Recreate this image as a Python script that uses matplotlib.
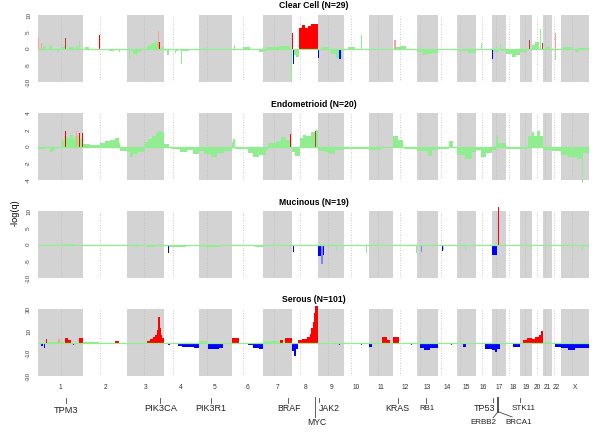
import numpy as np
import matplotlib.pyplot as plt
from matplotlib import transforms

plt.rcParams['font.family'] = ['Liberation Sans', 'DejaVu Sans']

# genome layout (Mb)
chrom_names = [str(i) for i in range(1, 23)] + ['X']
chrom_len = [247, 243, 199, 191, 181, 171, 159, 146, 140, 135, 134, 132,
             114, 106, 100, 89, 79, 76, 64, 62, 47, 50, 155]
centromere = [124.2, 93.4, 91.7, 50.9, 47.7, 60.5, 59.1, 45.2, 51.8, 40.3, 52.9, 35.4,
              16.0, 15.6, 17.0, 38.2, 22.2, 16.1, 28.5, 27.1, 12.3, 11.8, 59.5]

# segments: (chrom, start Mb, end Mb, -log(q), call)
clear_cell = [
    (1, 0, 4, 3.3, 'amp_w'), (1, 18, 24, 1.7, 'amp_w'), (1, 30, 45, 0.6, 'ns'),
    (1, 60, 68, 0.5, 'ns'), (1, 68, 75, 0.9, 'ns'), (1, 105, 114, -1.0, 'ns'),
    (1, 130, 140, 0.4, 'ns'), (1, 140, 148, 0.7, 'ns'),
    (1, 150, 156, 3.2, 'amp_d'), (1, 170, 200, 0.3, 'ns'), (1, 210, 220, 0.8, 'ns'),
    (1, 226, 231, 2.2, 'ns'),
    (2, 10, 30, 0.3, 'ns'), (2, 36, 40, 1.0, 'ns'), (2, 60, 85, -0.4, 'ns'),
    (2, 88, 94, 4.1, 'amp'), (2, 110, 140, -0.3, 'ns'), (2, 140, 170, -0.6, 'ns'),
    (2, 198, 204, -1.0, 'ns'),
    (3, 8, 12, -3.0, 'ns'), (3, 20, 30, -0.8, 'ns'), (3, 30, 45, -1.5, 'ns'),
    (3, 45, 55, -2.2, 'ns'), (3, 55, 60, -1.6, 'ns'), (3, 60, 72, -1.0, 'ns'),
    (3, 72, 106, -0.5, 'ns'), (3, 106, 120, 0.6, 'ns'), (3, 120, 130, 1.0, 'ns'),
    (3, 130, 150, 1.5, 'ns'), (3, 150, 160, 2.2, 'ns'), (3, 160, 167, 1.7, 'ns'),
    (3, 167, 172, 5.2, 'amp_w'), (3, 172, 180, 2.0, 'amp'), (3, 182, 199, 0.5, 'ns'),
    (4, 5, 15, -0.8, 'ns'), (4, 20, 30, -2.0, 'ns'), (4, 60, 70, -1.2, 'ns'),
    (4, 70, 80, -0.7, 'ns'), (4, 96, 100, -4.5, 'ns'), (4, 100, 140, -0.6, 'ns'),
    (4, 150, 185, -0.3, 'ns'),
    (5, 0, 3, 1.8, 'amp'), (5, 33, 38, 1.0, 'ns'), (5, 140, 170, -0.5, 'ns'),
    (6, 15, 20, 1.0, 'ns'), (6, 60, 100, 0.3, 'ns'), (6, 150, 171, -1.0, 'ns'),
    (7, 0, 20, -0.8, 'ns'), (7, 20, 90, 0.3, 'ns'), (7, 90, 150, 0.6, 'ns'),
    (7, 156, 159, -9.8, 'ns'),
    (8, 0, 8, 4.7, 'amp'), (8, 4, 12, -4.5, 'del'), (8, 12, 25, -1.8, 'ns'),
    (8, 25, 41, -2.5, 'ns'),
    (8, 41, 54, 6.0, 'amp'), (8, 54, 72, 7.0, 'amp'), (8, 72, 90, 6.2, 'amp'),
    (8, 90, 108, 6.7, 'amp'), (8, 108, 146, 7.2, 'amp'),
    (9, 0, 3, -2.7, 'del'), (9, 20, 60, 0.4, 'ns'), (9, 70, 95, -1.5, 'ns'),
    (9, 95, 127, -2.7, 'ns'), (9, 113, 121, -3.2, 'del'),
    (10, 20, 60, 0.3, 'ns'), (10, 94, 98, 4.0, 'ns'), (10, 100, 130, -0.3, 'ns'),
    (11, 30, 120, -0.3, 'ns'),
    (12, 5, 14, 2.5, 'amp_w'), (12, 15, 40, 0.5, 'ns'), (12, 40, 70, 0.8, 'ns'),
    (13, 0, 30, -1.0, 'ns'), (13, 30, 55, -2.0, 'ns'), (13, 55, 80, -1.5, 'ns'),
    (13, 80, 114, -1.2, 'ns'), (13, 46, 50, -4.5, 'del'),
    (14, 20, 60, -0.3, 'ns'), (14, 103, 106, 10.9, 'amp'),
    (15, 5, 60, -0.8, 'ns'), (15, 60, 100, -1.2, 'ns'),
    (16, 31, 35, 1.5, 'ns'), (16, 40, 80, -0.4, 'ns'),
    (17, 0, 6, -3.0, 'del'), (17, 6, 40, -1.0, 'ns'), (17, 45, 50, 1.5, 'ns'),
    (17, 50, 79, -0.8, 'ns'),
    (18, 0, 30, -1.5, 'ns'), (18, 30, 55, -2.5, 'ns'), (18, 55, 76, -1.8, 'ns'),
    (19, 0, 40, -1.0, 'ns'), (19, 49, 53, 2.5, 'amp_d'),
    (20, 0, 20, 1.0, 'ns'), (20, 20, 40, 2.0, 'ns'), (20, 46, 49, 5.7, 'ns'),
    (20, 57, 61, 1.7, 'amp_d'),
    (21, 10, 40, 0.5, 'ns'),
    (22, 18, 24, 4.7, 'amp_w'), (22, 20, 22, -3.5, 'ns'),
    (23, 10, 60, 0.3, 'ns'), (23, 80, 100, -1.0, 'ns'), (23, 100, 155, 0.2, 'ns'),
]

endometrioid = [
    (1, 0, 40, -0.3, 'ns'), (1, 66, 80, -0.6, 'ns'), (1, 80, 93, -0.4, 'ns'),
    (1, 131, 145, 0.8, 'ns'), (1, 145, 160, 1.3, 'ns'), (1, 160, 175, 1.0, 'ns'),
    (1, 175, 190, 1.4, 'ns'), (1, 190, 205, 0.9, 'ns'), (1, 205, 225, 1.2, 'ns'),
    (1, 225, 247, 0.9, 'ns'),
    (1, 148, 156, 1.8, 'amp'), (1, 208, 216, 1.8, 'amp_w'), (1, 225, 230, 1.6, 'amp'),
    (1, 240, 246, 1.6, 'amp'),
    (2, 0, 40, 0.3, 'ns'), (2, 40, 93, 0.2, 'ns'), (2, 93, 120, 0.4, 'ns'),
    (2, 120, 150, 0.6, 'ns'), (2, 150, 175, 0.8, 'ns'), (2, 175, 195, 1.0, 'ns'),
    (2, 195, 202, 0.4, 'ns'), (2, 202, 243, -0.5, 'ns'),
    (3, 0, 15, -0.6, 'ns'), (3, 15, 30, -1.3, 'ns'), (3, 30, 60, -0.9, 'ns'),
    (3, 60, 96, -0.6, 'ns'), (3, 96, 115, 0.5, 'ns'), (3, 115, 135, 0.9, 'ns'),
    (3, 135, 155, 1.2, 'ns'), (3, 155, 170, 1.6, 'ns'), (3, 170, 185, 1.9, 'ns'),
    (3, 185, 199, 1.7, 'ns'),
    (4, 0, 30, 0.3, 'ns'), (4, 40, 90, -0.3, 'ns'), (4, 90, 130, -0.6, 'ns'),
    (4, 130, 160, -0.4, 'ns'), (4, 160, 191, -0.9, 'ns'),
    (5, 0, 30, -0.5, 'ns'), (5, 30, 70, -0.9, 'ns'), (5, 70, 100, -1.3, 'ns'),
    (5, 100, 140, -0.8, 'ns'), (5, 140, 181, -0.5, 'ns'),
    (6, 0, 10, 0.5, 'ns'), (6, 10, 20, 0.9, 'ns'), (6, 20, 90, -0.3, 'ns'),
    (6, 90, 120, -0.8, 'ns'), (6, 120, 150, -1.3, 'ns'), (6, 150, 171, -1.0, 'ns'),
    (7, 0, 20, -1.0, 'ns'), (7, 20, 30, -0.4, 'ns'), (7, 30, 70, 0.4, 'ns'),
    (7, 70, 100, 0.7, 'ns'), (7, 100, 125, 1.1, 'ns'), (7, 125, 148, 0.8, 'ns'),
    (7, 148, 155, 1.5, 'amp'),
    (8, 0, 20, -0.7, 'ns'), (8, 20, 44, -1.1, 'ns'), (8, 44, 60, 1.0, 'ns'),
    (8, 60, 80, 1.4, 'ns'), (8, 80, 105, 1.2, 'ns'), (8, 105, 126, 1.7, 'ns'),
    (8, 126, 133, 1.8, 'amp_d'), (8, 133, 146, 2.0, 'ns'),
    (9, 0, 40, -0.5, 'ns'), (9, 40, 60, -0.7, 'ns'), (9, 60, 90, -0.9, 'ns'),
    (9, 90, 140, -0.4, 'ns'),
    (10, 0, 135, -0.3, 'ns'),
    (11, 0, 70, -0.4, 'ns'), (11, 70, 134, -0.2, 'ns'),
    (12, 0, 25, 1.3, 'ns'), (12, 25, 54, 0.8, 'ns'), (12, 60, 132, -0.3, 'ns'),
    (13, 0, 60, -0.5, 'ns'), (13, 60, 80, -1.1, 'ns'), (13, 80, 114, -0.4, 'ns'),
    (14, 0, 60, -0.3, 'ns'), (14, 60, 80, 0.6, 'ns'), (14, 80, 106, -0.2, 'ns'),
    (15, 0, 40, -1.0, 'ns'), (15, 40, 80, -1.5, 'ns'), (15, 80, 100, -0.6, 'ns'),
    (16, 0, 30, -0.4, 'ns'), (16, 30, 60, -1.2, 'ns'), (16, 60, 89, -0.8, 'ns'),
    (17, 0, 25, -0.4, 'ns'), (17, 25, 35, 1.2, 'ns'), (17, 35, 79, 0.4, 'ns'),
    (18, 0, 76, -0.3, 'ns'),
    (19, 0, 40, -0.3, 'ns'), (19, 45, 64, 1.3, 'ns'),
    (20, 0, 15, 1.7, 'ns'), (20, 15, 30, 1.3, 'ns'), (20, 30, 45, 1.8, 'ns'),
    (20, 45, 62, 1.2, 'ns'),
    (21, 0, 47, -0.4, 'ns'),
    (22, 0, 50, -0.5, 'ns'),
    (23, 0, 40, -1.0, 'ns'), (23, 40, 90, -1.3, 'ns'), (23, 90, 118, -1.5, 'ns'),
    (23, 118, 121, -4.3, 'ns'), (23, 121, 155, -0.8, 'ns'),
]

mucinous = [
    (1, 36, 40, -5.7, 'del'), (1, 150, 200, 0.2, 'ns'),
    (3, 40, 60, -0.8, 'ns'), (3, 110, 150, -0.8, 'ns'),
    (4, 24, 27, -2.6, 'del'), (4, 30, 120, -0.6, 'ns'),
    (5, 30, 120, -0.8, 'ns'),
    (6, 130, 171, -0.8, 'ns'),
    (8, 6, 10, -2.2, 'del'),
    (9, 0, 12, -3.5, 'del'), (9, 12, 25, -5.8, 'del_w'), (9, 25, 30, -3.0, 'del'),
    (9, 98, 102, -1.5, 'ns'),
    (10, 122, 126, -2.5, 'ns'),
    (12, 127, 131, -2.5, 'ns'),
    (13, 20, 28, -2.2, 'del_w'),
    (14, 20, 27, -1.9, 'del'), (14, 30, 32, -1.5, 'ns'), (14, 103, 106, 9.1, 'amp'),
    (15, 44, 47, -2.0, 'ns'),
    (17, 2, 30, -3.0, 'del'), (17, 34, 37, 11.1, 'amp'),
    (19, 61, 64, -1.5, 'ns'),
    (22, 16, 20, -2.0, 'del_w'),
    (23, 119, 123, -2.0, 'ns'),
]

serous = [
    (1, 50, 110, 0.8, 'ns'), (1, 120, 145, 0.5, 'ns'),
    (1, 15, 29, -3.4, 'del'), (1, 31, 40, -4.5, 'del'), (1, 42, 49, 2.7, 'amp'),
    (1, 111, 120, 3.5, 'amp_w'), (1, 148, 166, 4.2, 'amp'), (1, 166, 179, 2.5, 'amp'),
    (1, 190, 197, -1.8, 'del'), (1, 225, 247, 4.2, 'amp'),
    (2, 0, 90, 0.5, 'ns'), (2, 100, 170, -0.5, 'ns'),
    (2, 91, 95, 2.5, 'amp'), (2, 175, 197, 1.5, 'amp'),
    (3, 7, 11, -2.7, 'del'), (3, 105, 125, 1.5, 'amp'), (3, 125, 140, 3.0, 'amp'),
    (3, 140, 152, 4.5, 'amp'), (3, 152, 160, 7.0, 'amp'), (3, 160, 165, 11.0, 'amp'),
    (3, 165, 170, 17.0, 'amp'), (3, 170, 176, 23.0, 'amp'), (3, 176, 180, 18.0, 'amp'),
    (3, 180, 185, 12.6, 'amp'), (3, 185, 192, 7.0, 'amp'), (3, 192, 199, 4.0, 'amp'),
    (4, 25, 34, -2.0, 'del'), (4, 80, 100, -3.5, 'del'), (4, 100, 165, -4.0, 'del'),
    (4, 165, 191, -5.0, 'del'),
    (5, 0, 45, 1.5, 'ns'), (5, 53, 75, -5.4, 'del'), (5, 75, 110, -6.0, 'del'),
    (5, 110, 135, -5.0, 'del'),
    (6, 0, 40, 3.6, 'amp'), (6, 91, 119, -2.5, 'del'), (6, 119, 150, -5.0, 'del'),
    (6, 150, 171, -6.0, 'del'),
    (7, 0, 90, 1.0, 'ns'), (7, 94, 112, 2.0, 'amp'), (7, 121, 158, 4.2, 'amp'),
    (8, 0, 10, -8.0, 'del'), (8, 10, 22, -12.0, 'del'), (8, 22, 35, -6.0, 'del'),
    (8, 35, 55, 2.0, 'amp'), (8, 55, 85, 3.5, 'amp'), (8, 85, 100, 5.0, 'amp'),
    (8, 100, 108, 8.0, 'amp'), (8, 108, 115, 13.0, 'amp'), (8, 115, 122, 18.0, 'amp'),
    (8, 122, 128, 26.0, 'amp'), (8, 128, 146, 33.0, 'amp'),
    (9, 115, 119, -2.0, 'del'),
    (10, 3, 7, 2.0, 'amp'), (10, 96, 100, -2.0, 'del'),
    (11, 0, 20, -4.0, 'del'), (11, 71, 100, 5.0, 'amp'), (11, 102, 117, 2.5, 'amp'),
    (12, 0, 32, 4.5, 'amp'), (12, 99, 103, -2.0, 'del'),
    (13, 15, 40, -4.5, 'del'), (13, 40, 70, -6.3, 'del'), (13, 70, 114, -5.0, 'del'),
    (14, 73, 77, -2.0, 'del'), (14, 103, 106, 33.0, 'amp'),
    (15, 29, 47, -4.0, 'del'), (15, 95, 99, 1.5, 'amp'),
    (16, 0, 3, 2.0, 'amp'), (16, 51, 89, -5.4, 'del'),
    (17, 0, 17, -7.0, 'del'), (17, 17, 27, -8.5, 'del'), (17, 27, 44, -6.0, 'del'),
    (18, 35, 76, -4.0, 'del'),
    (19, 17, 40, 2.5, 'amp'), (19, 40, 63, 3.6, 'amp'),
    (20, 0, 20, 3.0, 'amp'), (20, 20, 40, 5.0, 'amp'), (20, 40, 52, 7.0, 'amp'),
    (20, 52, 62, 10.5, 'amp'),
    (21, 10, 40, 0.8, 'ns'),
    (22, 18, 50, -4.0, 'del'),
    (23, 0, 40, -5.0, 'del'), (23, 40, 80, -6.5, 'del'), (23, 80, 155, -4.5, 'del'),
]

panel_titles = ['Clear Cell (N=29)', 'Endometrioid (N=20)', 'Mucinous (N=19)', 'Serous (N=101)']
panel_data = [clear_cell, endometrioid, mucinous, serous]
panel_lim = [10, 4, 10, 30]
panel_ticks = [[-10, -5, 0, 5, 10], [-4, -2, 0, 2, 4], [-10, -5, 0, 5, 10], [-30, -10, 10, 30]]

genes = ['TPM3', 'PIK3CA', 'PIK3R1', 'BRAF', 'MYC', 'JAK2', 'KRAS', 'RB1',
         'TP53', 'ERBB2', 'BRCA1', 'STK11']
gene_chrom = [1, 3, 5, 7, 8, 9, 12, 13, 17, 17, 17, 19]
gene_pos = [154.1, 180.4, 67.5, 140.1, 128.8, 5.0, 25.3, 47.8, 7.5, 35.1, 38.5, 1.2]

colors = {'ns': '#90ee90', 'amp': '#ff0000', 'amp_w': '#ff9d9d', 'amp_d': '#c0392b',
          'del': '#0000ff', 'del_w': '#8080ff'}

offsets = np.concatenate([[0], np.cumsum(chrom_len)[:-1]])
genome_len = sum(chrom_len)

fig = plt.figure(figsize=(6, 4.33), dpi=100)
H = 433.0
left, width = 38 / 600, 551 / 600
box_bottoms = [82, 180, 278, 376]
title_y = [6, 104.7, 202.7, 300]

axes = []
for i in range(4):
    ax = fig.add_axes([left, 1 - box_bottoms[i] / H, width, 67 / H])
    lim = panel_lim[i]
    # alternating chromosome shading
    odd = np.arange(len(chrom_len)) % 2 == 0
    odd[21] = False
    odd[22] = True
    ax.bar(offsets[odd], 2 * lim, width=np.array(chrom_len)[odd], bottom=-lim,
           align='edge', color='#d3d3d3', linewidth=0, zorder=0)
    ax.vlines(offsets + np.array(centromere), -lim, lim, colors='#b8b8b8',
              linestyles=(0, (1, 2)), linewidth=0.6, zorder=1)

    segs = panel_data[i]
    for kinds, z in [(['ns'], 2), (['amp_w', 'del_w'], 3), (['amp', 'del', 'amp_d'], 4)]:
        sel = [s for s in segs if s[4] in kinds]
        if not sel:
            continue
        x0 = np.array([offsets[s[0] - 1] + s[1] for s in sel])
        w = np.array([s[2] - s[1] for s in sel])
        v = np.array([s[3] for s in sel])
        c = [colors[s[4]] for s in sel]
        ax.bar(x0, v, width=w, align='edge', color=c, linewidth=0, zorder=z, clip_on=False)
    ax.axhline(0, color='#90ee90', linewidth=0.9, zorder=5)

    ax.set_xlim(0, genome_len)
    ax.set_ylim(-lim, lim)
    ax.set_yticks(panel_ticks[i])
    ax.set_yticklabels([str(t) for t in panel_ticks[i]], rotation=90, va='center',
                       fontsize=4.6, color='#444444')
    ax.tick_params(axis='y', length=0, pad=5)
    ax.tick_params(axis='x', length=0)
    ax.set_xticks([])
    for sp in ax.spines.values():
        sp.set_visible(False)
    ax.patch.set_alpha(0)
    fig.text(314 / 600, 1 - title_y[i] / H, panel_titles[i], ha='center', va='center',
             fontsize=6.2, fontweight='bold')
    axes.append(ax)

ax = axes[-1]
ax.set_xticks(offsets + np.array(chrom_len) / 2)
ax.set_xticklabels(chrom_names, fontsize=4.8, color='#333333')
ax.tick_params(axis='x', length=0, pad=6)

fig.text(15 / 600, 1 - 213 / H, '-log(q)', rotation=90, ha='center', va='center',
         fontsize=6.6)

# gene annotations: data x, figure y
trans = transforms.blended_transform_factory(ax.transData, fig.transFigure)
mb_per_px = genome_len / 551.0
# name: (tick top, tick bottom, label dx px, label y, size, ha)
gene_layout = {
    'TPM3': (398, 403, 0, 410.7, 6.7, 'center'),
    'PIK3CA': (398, 403, 0, 408.3, 6.7, 'center'),
    'PIK3R1': (398, 403, 0, 408.3, 6.5, 'center'),
    'BRAF': (398, 403, 0.6, 408.3, 6.3, 'center'),
    'MYC': (397, 416.7, 1.3, 422.3, 6.2, 'center'),
    'JAK2': (398, 402, -0.5, 408.3, 6.3, 'left'),
    'KRAS': (398, 403, 0, 408.3, 6.4, 'center'),
    'RB1': (398, 403, 1.5, 408.3, 5.6, 'center'),
    'TP53': (398, 402, -8.3, 408.3, 6.5, 'center'),
    'ERBB2': (398.3, 411.7, -14.5, 422.3, 5.8, 'center'),
    'BRCA1': (None, None, 20.0, 422.3, 5.8, 'center'),
    'STK11': (398, 402, 3.3, 408.3, 5.8, 'center'),
}
for g, ch, pos in zip(genes, gene_chrom, gene_pos):
    gx = offsets[ch - 1] + pos
    t0, t1, dx, ty, fs, ha = gene_layout[g]
    lw = 1.3 if g == 'ERBB2' else 0.6
    if t0 is not None:
        ax.plot([gx, gx], [1 - t0 / H, 1 - t1 / H], color='#444444', lw=lw,
                transform=trans, clip_on=False)
    ax.text(gx + dx * mb_per_px, 1 - ty / H, g, transform=trans, ha=ha, va='center',
            fontsize=fs, color='#222222')

# connector lines for ERBB2 / BRCA1
ex = offsets[16] + gene_pos[genes.index('ERBB2')]
ax.plot([ex, ex - 5 * mb_per_px], [1 - 411.7 / H, 1 - 417.7 / H], color='#444444',
        lw=0.6, transform=trans, clip_on=False)
ax.plot([ex, ex + 14 * mb_per_px], [1 - 411.7 / H, 1 - 417 / H], color='#444444',
        lw=0.6, transform=trans, clip_on=False)

fig.savefig('out.png', dpi=100)
